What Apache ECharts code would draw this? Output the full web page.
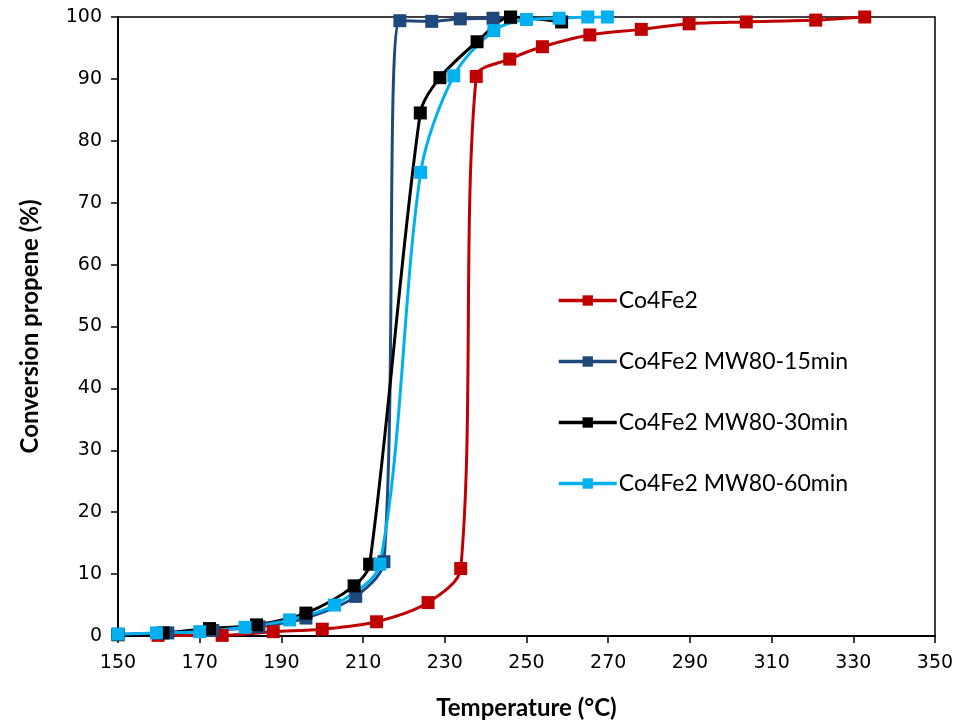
<!DOCTYPE html>
<html>
<head>
<meta charset="utf-8">
<script src="https://cdn.jsdelivr.net/npm/echarts@6/dist/echarts.min.js"></script>
<style>
    html, body { margin: 0; padding: 0; background: #fff; }
    #main { width: 957px; height: 724px; }
</style>
</head>
<body>
<div id="main"></div>
<script>
// 温度 / 转化率 数据
var co4fe2 = [[159.8, 0.1], [175.5, 0.1], [188, 0.7], [200, 1.1], [213.3, 2.3], [225.9, 5.4], [233.9, 10.9],
    [237.7, 90.4], [245.9, 93.2], [253.9, 95.2], [265.5, 97.1], [278.1, 98.0], [289.8, 98.9], [303.8, 99.2],
    [320.8, 99.5], [332.8, 100]];
var mw15 = [[150, 0.3], [162.2, 0.5], [173.2, 0.9], [184.5, 1.5], [196, 2.9], [208.2, 6.4], [215.1, 12],
    [219, 99.4], [226.8, 99.3], [233.8, 99.7], [241.8, 99.8], [246.1, 99.9]];
var mw30 = [[150, 0.2], [161, 0.5], [172.4, 1.2], [183.9, 1.8], [196, 3.7], [207.8, 8.1], [211.6, 11.6],
    [224, 84.5], [228.8, 90.2], [237.9, 96.0], [246.1, 100], [258.6, 99.2]];
var mw60 = [[150, 0.3], [159.4, 0.5], [170, 0.7], [181.1, 1.4], [192, 2.6], [203, 5.0], [214.1, 11.6],
    [224.1, 74.9], [232.2, 90.5], [242, 97.8], [250, 99.6], [258, 99.8], [265, 100], [269.8, 100]];
var names = ['Co4Fe2', 'Co4Fe2 MW80-15min', 'Co4Fe2 MW80-30min', 'Co4Fe2 MW80-60min'];
var colors = ['#C00000', '#1F497D', '#000000', '#00B0F0'];

var myChart = echarts.init(document.getElementById('main'));

function mkSeries(i, data) {
    return {
        name: names[i],
        type: 'line',
        data: data,
        smooth: 0.3,
        symbol: 'rect',
        symbolSize: 13,
        lineStyle: { width: 3, color: colors[i] },
        itemStyle: { color: colors[i] }
    };
}

var option = {
    backgroundColor: '#fff',
    animation: false,
    grid: {
        left: 118, right: 22, top: 17, bottom: 88,
        outerBoundsMode: 'none',
        containLabel: false,
        show: true, borderColor: '#000', borderWidth: 1.5
    },
    legend: {
        orient: 'vertical',
        left: 552,
        top: 284,
        itemWidth: 58,
        itemHeight: 13,
        itemGap: 38,
        lineStyle: { width: 3.5 },
        textStyle: { fontFamily: 'Lato', fontSize: 23, color: '#000', padding: [0, 0, 0, -3] },
        data: names
    },
    xAxis: {
        type: 'value',
        min: 150, max: 350, interval: 20,
        name: 'Temperature (°C)',
        nameLocation: 'middle',
        nameGap: 60,
        nameTextStyle: { fontFamily: 'Lato', fontWeight: 'bold', fontSize: 24, color: '#000' },
        axisLine: { lineStyle: { color: '#000', width: 2 } },
        axisTick: { inside: false, length: 7, lineStyle: { color: '#000', width: 1.5 } },
        axisLabel: { fontFamily: 'DejaVu Sans', fontSize: 19, color: '#000', margin: 18 },
        splitLine: { show: false }
    },
    yAxis: {
        type: 'value',
        min: 0, max: 100, interval: 10,
        name: 'Conversion propene (%)',
        nameLocation: 'middle',
        nameRotate: 90,
        nameGap: 76,
        nameTextStyle: { fontFamily: 'Lato', fontWeight: 'bold', fontSize: 24, color: '#000' },
        axisLine: { show: true, lineStyle: { color: '#000', width: 2 } },
        axisTick: { show: true, inside: false, length: 7, lineStyle: { color: '#000', width: 1.5 } },
        axisLabel: { fontFamily: 'DejaVu Sans', fontSize: 19, color: '#000', margin: 16 },
        splitLine: { show: false }
    },
    series: [mkSeries(0, co4fe2), mkSeries(1, mw15), mkSeries(2, mw30), mkSeries(3, mw60)]
};
myChart.setOption(option);
</script>
</body>
</html>
